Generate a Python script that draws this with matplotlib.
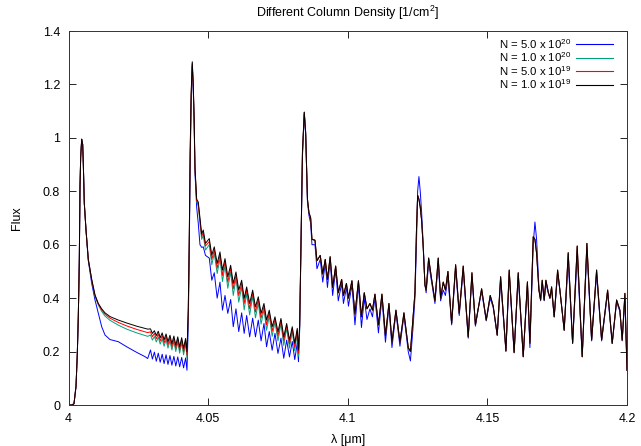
import matplotlib
matplotlib.use("Agg")
import matplotlib.pyplot as plt
from matplotlib.lines import Line2D

plt.rcParams['font.family'] = ['Liberation Sans', 'DejaVu Sans']
plt.rcParams['mathtext.fontset'] = 'custom'
plt.rcParams['mathtext.rm'] = 'Liberation Sans'
plt.rcParams['mathtext.it'] = 'Liberation Sans'

# wavelength grid [um], part where the four spectra differ
lam_head = [4.0, 4.00125, 4.00197, 4.00269, 4.00315, 4.00351, 4.00387, 4.00412, 4.00437, 4.00473,
            4.00508, 4.0053, 4.00566, 4.00627, 4.00709, 4.00831, 4.00949, 4.01067, 4.01189, 4.01307,
            4.01486, 4.01783, 4.02084, 4.02442, 4.02739, 4.02836,
            4.02936, 4.03004, 4.03076, 4.03144, 4.03215, 4.03283, 4.03355, 4.03423, 4.03494, 4.03562,
            4.03634, 4.03702, 4.03774, 4.03842, 4.03913, 4.03981, 4.04053, 4.04121, 4.04193, 4.04243,
            4.04289, 4.04322, 4.04357, 4.04393, 4.04432, 4.04468, 4.045, 4.04529, 4.0459, 4.04647,
            4.04708, 4.04769, 4.04826, 4.04905,
            4.05041, 4.05131, 4.0522, 4.05324, 4.05424, 4.05514, 4.05605, 4.05704, 4.05807, 4.059,
            4.05997, 4.06097, 4.06201, 4.06291, 4.0638, 4.06488, 4.06595, 4.06695, 4.06796, 4.06896,
            4.07, 4.07093, 4.07189, 4.07293, 4.07394, 4.07501, 4.07608, 4.07709, 4.07812, 4.07913,
            4.08013, 4.08102, 4.08192, 4.08235, 4.08278, 4.08325, 4.08378]

# wavelength grid [um], part where they nearly coincide
lam_tail = [4.08443, 4.08493, 4.08528, 4.08557, 4.08611, 4.08672, 4.08718, 4.08826, 4.08897, 4.09015,
            4.09105, 4.09194, 4.09273, 4.0937, 4.09459, 4.09567, 4.0966, 4.09782, 4.09846, 4.09953,
            4.10025, 4.1015, 4.10258, 4.10383, 4.10491, 4.10591, 4.10688, 4.10795, 4.10884, 4.10974,
            4.11099, 4.11224, 4.1135, 4.11475, 4.11583, 4.11726, 4.11869, 4.12012, 4.12166, 4.12245,
            4.12345, 4.12406, 4.1246, 4.12503, 4.12549, 4.12596, 4.12646, 4.12703, 4.12764, 4.12807,
            4.12897, 4.13004, 4.13122, 4.1324, 4.13326, 4.13419, 4.13498, 4.13588, 4.1372, 4.13863,
            4.13992, 4.14135, 4.14314, 4.14447, 4.14572, 4.14672, 4.14794, 4.14959, 4.15102, 4.15209,
            4.15353, 4.15474, 4.15664, 4.15782, 4.15958, 4.16105, 4.16284, 4.16434, 4.16523, 4.16642,
            4.16703, 4.16763, 4.16846, 4.16906, 4.16964, 4.17035, 4.17096, 4.17178, 4.17239, 4.173,
            4.17393, 4.17515, 4.17597, 4.17751, 4.17895, 4.18052, 4.18217, 4.18396, 4.18564, 4.18733,
            4.18911, 4.19091, 4.19306, 4.1947, 4.19628, 4.19746, 4.19828, 4.19925, 4.2]

head_n5e20 = [0.0, 0.0, 0.005, 0.07, 0.19, 0.33, 0.54, 0.82, 0.93, 0.995,
              0.975, 0.905, 0.755, 0.655, 0.54, 0.455, 0.393, 0.343, 0.293, 0.262,
              0.245, 0.237, 0.218, 0.197, 0.181, 0.174,
              0.206, 0.172, 0.198, 0.164, 0.194, 0.16, 0.19, 0.155, 0.188, 0.152,
              0.185, 0.149, 0.182, 0.146, 0.18, 0.143, 0.178, 0.139, 0.176, 0.13,
              0.3, 0.55, 0.9, 1.13, 1.27, 1.18, 1.05, 0.87, 0.74, 0.68,
              0.60, 0.59, 0.592, 0.56,
              0.55, 0.467, 0.495, 0.40, 0.46, 0.355, 0.41, 0.343, 0.395, 0.293,
              0.36, 0.275, 0.345, 0.268, 0.335, 0.255, 0.325, 0.255, 0.318, 0.24,
              0.305, 0.218, 0.275, 0.205, 0.268, 0.193, 0.25, 0.175, 0.243, 0.18,
              0.238, 0.17, 0.232, 0.162, 0.28, 0.58, 0.93]

head_n1e20 = [0.0, 0.0, 0.005, 0.07, 0.19, 0.33, 0.54, 0.82, 0.93, 0.995,
              0.975, 0.905, 0.755, 0.655, 0.545, 0.466, 0.406, 0.375, 0.35, 0.333,
              0.317, 0.299, 0.284, 0.27, 0.26, 0.257,
              0.262, 0.243, 0.256, 0.236, 0.254, 0.228, 0.248, 0.22, 0.245, 0.213,
              0.241, 0.206, 0.238, 0.2, 0.235, 0.194, 0.233, 0.188, 0.23, 0.175,
              0.34, 0.58, 0.93, 1.15, 1.275, 1.19, 1.06, 0.88, 0.76, 0.745,
              0.68, 0.62, 0.635, 0.58,
              0.6, 0.525, 0.568, 0.492, 0.548, 0.462, 0.523, 0.437, 0.498, 0.41,
              0.473, 0.385, 0.442, 0.356, 0.418, 0.337, 0.407, 0.326, 0.382, 0.303,
              0.358, 0.28, 0.334, 0.257, 0.311, 0.24, 0.305, 0.223, 0.288, 0.213,
              0.276, 0.203, 0.27, 0.182, 0.29, 0.59, 0.94]

head_n5e19 = [0.0, 0.0, 0.005, 0.07, 0.19, 0.33, 0.54, 0.82, 0.93, 0.995,
              0.975, 0.905, 0.755, 0.655, 0.545, 0.468, 0.41, 0.378, 0.356, 0.34,
              0.325, 0.309, 0.296, 0.283, 0.274, 0.271,
              0.274, 0.256, 0.268, 0.248, 0.266, 0.24, 0.26, 0.232, 0.257, 0.225,
              0.252, 0.218, 0.249, 0.212, 0.246, 0.206, 0.244, 0.2, 0.241, 0.188,
              0.35, 0.59, 0.94, 1.16, 1.28, 1.195, 1.065, 0.885, 0.765, 0.752,
              0.69, 0.63, 0.645, 0.595,
              0.612, 0.545, 0.58, 0.512, 0.562, 0.485, 0.537, 0.46, 0.512, 0.435,
              0.487, 0.41, 0.456, 0.38, 0.432, 0.36, 0.42, 0.348, 0.395, 0.325,
              0.37, 0.3, 0.346, 0.276, 0.322, 0.258, 0.316, 0.24, 0.298, 0.229,
              0.286, 0.218, 0.28, 0.195, 0.295, 0.595, 0.945]

head_n1e19 = [0.0, 0.0, 0.005, 0.07, 0.19, 0.33, 0.54, 0.82, 0.93, 0.995,
              0.975, 0.905, 0.755, 0.655, 0.545, 0.47, 0.412, 0.38, 0.36, 0.345,
              0.331, 0.318, 0.307, 0.295, 0.287, 0.284,
              0.285, 0.268, 0.278, 0.26, 0.276, 0.252, 0.27, 0.244, 0.266, 0.237,
              0.261, 0.23, 0.258, 0.224, 0.255, 0.218, 0.252, 0.213, 0.249, 0.2,
              0.36, 0.6, 0.95, 1.17, 1.285, 1.2, 1.07, 0.89, 0.77, 0.76,
              0.70, 0.64, 0.655, 0.605,
              0.623, 0.561, 0.592, 0.53, 0.573, 0.505, 0.548, 0.48, 0.523, 0.455,
              0.498, 0.43, 0.467, 0.399, 0.442, 0.38, 0.43, 0.367, 0.405, 0.343,
              0.38, 0.318, 0.355, 0.293, 0.33, 0.274, 0.324, 0.255, 0.305, 0.243,
              0.293, 0.231, 0.287, 0.206, 0.3, 0.6, 0.95]

# long wavelength part: N=5e20 on its own, the three lower columns overlap
tail_n5e20 = [1.09, 1.01, 0.88, 0.76, 0.71, 0.68, 0.60, 0.6, 0.51, 0.545,
              0.46, 0.53, 0.44, 0.54, 0.41, 0.505, 0.39, 0.455, 0.38, 0.44,
              0.37, 0.45, 0.30, 0.45, 0.29, 0.40, 0.32, 0.36, 0.33, 0.40,
              0.27, 0.40, 0.235, 0.37, 0.215, 0.345, 0.22, 0.335, 0.2, 0.165,
              0.3, 0.40, 0.6, 0.80, 0.855, 0.80, 0.72, 0.6, 0.45, 0.42,
              0.53, 0.46, 0.38, 0.53, 0.39, 0.43, 0.41, 0.48, 0.3, 0.51,
              0.335, 0.505, 0.25, 0.48, 0.295, 0.36, 0.425, 0.315, 0.40, 0.365,
              0.26, 0.465, 0.2, 0.49, 0.195, 0.48, 0.18, 0.45, 0.215, 0.6,
              0.685, 0.62, 0.44, 0.39, 0.455, 0.39, 0.455, 0.42, 0.40, 0.43,
              0.33, 0.49, 0.43, 0.28, 0.54, 0.23, 0.56, 0.18, 0.58, 0.24,
              0.49, 0.24, 0.42, 0.23, 0.385, 0.35, 0.24, 0.40, 0.13]

tail_low = [1.096, 1.02, 0.89, 0.77, 0.72, 0.70, 0.62, 0.617, 0.54, 0.56,
            0.49, 0.545, 0.47, 0.555, 0.44, 0.52, 0.42, 0.47, 0.41, 0.455,
            0.40, 0.465, 0.34, 0.465, 0.33, 0.42, 0.36, 0.38, 0.355, 0.415,
            0.30, 0.415, 0.26, 0.38, 0.235, 0.355, 0.235, 0.345, 0.215, 0.20,
            0.34, 0.42, 0.65, 0.785, 0.77, 0.74, 0.69, 0.59, 0.45, 0.43,
            0.55, 0.47, 0.39, 0.55, 0.40, 0.46, 0.43, 0.50, 0.305, 0.525,
            0.343, 0.52, 0.255, 0.495, 0.30, 0.36, 0.435, 0.318, 0.41, 0.37,
            0.262, 0.48, 0.203, 0.505, 0.197, 0.495, 0.181, 0.461, 0.231, 0.63,
            0.62, 0.567, 0.43, 0.393, 0.467, 0.393, 0.467, 0.424, 0.40, 0.442,
            0.33, 0.505, 0.43, 0.28, 0.57, 0.231, 0.595, 0.181, 0.605, 0.243,
            0.505, 0.243, 0.43, 0.231, 0.393, 0.355, 0.243, 0.418, 0.13]

labels = [r'N = 5.0 x 10$^{20}$', r'N = 1.0 x 10$^{20}$',
          r'N = 5.0 x 10$^{19}$', r'N = 1.0 x 10$^{19}$']
colors = ['#0000ff', '#00a07a', '#ff0000', '#000000']

lam = lam_head + lam_tail
series = [head_n5e20 + tail_n5e20,
          head_n1e20 + tail_low,
          head_n5e19 + tail_low,
          head_n1e19 + tail_low]

W, H = 641, 446
fig = plt.figure(figsize=(W / 100, H / 100), dpi=100)
ax = fig.add_axes([68.5 / W, 41 / H, 558.5 / W, 374 / H])

for flux, col in zip(series, colors):
    ax.plot(lam, flux, color=col, lw=0.7)

ax.set_xlim(4.0, 4.2)
ax.set_ylim(0, 1.4)
ax.set_xticks([4.0, 4.05, 4.1, 4.15, 4.2])
ax.set_xticklabels(['4', '4.05', '4.1', '4.15', '4.2'])
ax.set_yticks([0, 0.2, 0.4, 0.6, 0.8, 1.0, 1.2, 1.4])
ax.set_yticklabels(['0', '0.2', '0.4', '0.6', '0.8', '1', '1.2', '1.4'])
ax.tick_params(direction='in', top=True, right=True, length=5, width=0.6,
               labelsize=9, pad=6)
for sp in ax.spines.values():
    sp.set_linewidth(0.7)
    sp.set_color('#333333')

ax.set_title('Different Column Density [1/cm$^2$]', fontsize=9, pad=10)
ax.set_xlabel('λ [μm]', fontsize=9, labelpad=6)
ax.set_ylabel('Flux', fontsize=9, labelpad=14)

# gnuplot style key: right-justified text with the line sample after it
rows = [44, 57.5, 71, 84.5]
for row, lab, col in zip(rows, labels, colors):
    yf = 1 - row / H
    fig.text(571 / W, yf, lab, ha='right', va='center', fontsize=8.2)
    fig.add_artist(Line2D([576 / W, 613 / W], [yf, yf], color=col, lw=0.8,
                          transform=fig.transFigure))

plt.savefig('out.png', dpi=100)
